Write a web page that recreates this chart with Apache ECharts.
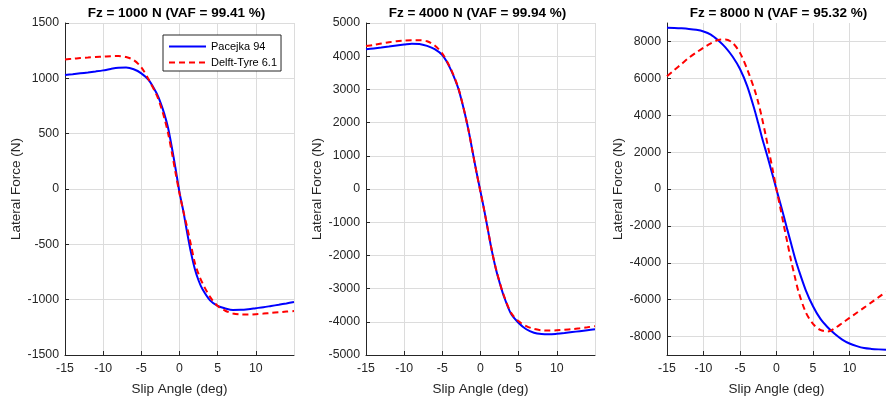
<!DOCTYPE html>
<html><head><meta charset="utf-8">
<script src="https://cdn.jsdelivr.net/npm/echarts@6/dist/echarts.min.js"></script>
<style>html,body{margin:0;padding:0;background:#fff}#c{width:886px;height:401px}</style>
</head><body><div id="c"></div>
<script>
const slip = [-15,-14,-13,-12,-11,-10,-9,-8,-7,-6,-5,-4,-3,-2.5,-2,-1.5,-1,-0.5,0,0.5,1,1.5,2,2.5,3,4,5,6,7,8,9,10,11,12,13,14,15];
const p94_1000 = [1030,1037,1045,1053,1062,1072,1085,1095,1097,1082,1045,982,865,783,681,553,375,178,-31,-200,-393,-573,-721,-827,-904,-1006,-1056,-1079,-1093,-1092,-1086,-1077,-1068,-1057,-1046,-1034,-1021];
const dt_1000 = [1171,1177,1183,1188,1193,1196,1200,1201,1192,1165,1100,985,850,758,645,505,330,140,-40,-200,-345,-505,-665,-770,-850,-975,-1057,-1100,-1125,-1134,-1135,-1131,-1126,-1120,-1114,-1108,-1103];
const p94_4000 = [4208,4235,4262,4290,4320,4350,4378,4370,4310,4210,4030,3650,3090,2690,2220,1690,1080,480,-80,-650,-1270,-1880,-2393,-2815,-3190,-3760,-4035,-4225,-4330,-4370,-4378,-4362,-4338,-4310,-4282,-4254,-4226];
const dt_4000 = [4307,4340,4380,4420,4450,4470,4480,4480,4450,4320,4080,3670,3110,2700,2225,1690,1075,470,-95,-660,-1265,-1870,-2380,-2800,-3170,-3730,-3985,-4130,-4215,-4255,-4265,-4255,-4240,-4220,-4195,-4165,-4130];
const p94_8000 = [8745,8733,8712,8680,8630,8540,8370,8060,7680,7170,6507,5566,4288,3560,2810,2120,1420,700,-30,-750,-1480,-2230,-2960,-3700,-4340,-5480,-6357,-7031,-7493,-7861,-8162,-8375,-8520,-8625,-8670,-8695,-8710];
const dt_8000 = [6116,6450,6780,7116,7400,7660,7900,8075,8110,7920,7380,6474,5374,4692,3870,2943,1978,997,-25,-975,-1968,-2927,-3886,-4737,-5544,-6675,-7309,-7640,-7725,-7545,-7270,-6990,-6710,-6430,-6150,-5865,-5585];

const titles = ['Fz = 1000 N (VAF = 99.41 %)','Fz = 4000 N (VAF = 99.94 %)','Fz = 8000 N (VAF = 95.32 %)'];
const seriesNames = ['Pacejka 94','Delft-Tyre 6.1'];
const xName = 'Slip Angle (deg)';
const yName = 'Lateral Force (N)';
const yTicks8000 = [-8000,-6000,-4000,-2000,0,2000,4000,6000,8000];

const FONT = "'Liberation Sans', Arial, Helvetica, sans-serif";
const AX = '#262626', GRIDC = '#dcdcdc';
const lefts = [65, 366, 667];
const W = 229, H = 332, TOP = 23;
const yCfg = [
  {min:-1500,max:1500,interval:500},
  {min:-5000,max:5000,interval:1000},
  {min:-9000,max:9000,custom:yTicks8000}
];
const pairs = a => slip.map((x,i)=>[x,a[i]]);
const blues = [p94_1000,p94_4000,p94_8000];
const reds = [dt_1000,dt_4000,dt_8000];

const option = {
  animation:false,
  backgroundColor:'#fff',
  textStyle:{fontFamily:FONT},
  title: titles.map((t,i)=>({text:t,left:lefts[i]+W/2-3,top:6,padding:0,textAlign:'center',
    textStyle:{fontSize:13.5,fontWeight:'bold',color:'#000',fontFamily:FONT}})),
  legend:{data:seriesNames,orient:'vertical',left:163,top:35,padding:[6,4,3,5],itemGap:5,
    itemWidth:37,itemHeight:2,borderColor:AX,borderWidth:1,backgroundColor:'#fff',borderRadius:0,
    itemStyle:{opacity:0},
    textStyle:{fontSize:11,color:'#000',fontFamily:FONT}},
  grid: lefts.map(l=>({left:l,top:TOP,width:W,height:H})),
  xAxis: lefts.map((l,i)=>({type:'value',gridIndex:i,min:-15,max:15,interval:5,
    name:xName,nameLocation:'middle',nameGap:27,nameTextStyle:{fontSize:13.5,color:AX,fontFamily:FONT},
    axisLine:{onZero:false,lineStyle:{color:AX,width:1}},
    axisTick:{inside:true,length:4,lineStyle:{color:AX}},
    axisLabel:{margin:8,fontSize:12.3,color:AX,fontFamily:FONT,showMaxLabel:false,formatter:v=>v===15?'':String(v)},
    splitLine:{show:true,lineStyle:{color:GRIDC,width:1}}})),
  yAxis: yCfg.map((c,i)=>{
    const a = {type:'value',gridIndex:i,min:c.min,max:c.max,
      name:yName,nameLocation:'middle',nameGap:39,nameTextStyle:{fontSize:13.5,color:AX,fontFamily:FONT},
      axisLine:{show:true,onZero:false,lineStyle:{color:AX,width:1}},
      axisTick:{show:true,inside:true,length:4,lineStyle:{color:AX}},
      axisLabel:{margin:6,fontSize:12.3,color:AX,fontFamily:FONT,formatter:v=>String(v)},
      splitLine:{show:true,lineStyle:{color:GRIDC,width:1}}};
    if (c.custom){ a.axisTick.customValues=c.custom; a.axisLabel.customValues=c.custom; }
    else a.interval=c.interval;
    return a;
  }),
  series: []
};
for (let i=0;i<3;i++){
  option.series.push({name:seriesNames[0],type:'line',xAxisIndex:i,yAxisIndex:i,data:pairs(blues[i]),
    symbol:'none',smooth:0.3,lineStyle:{color:'#0000ff',width:2},itemStyle:{color:'#0000ff'},z:3});
  option.series.push({name:seriesNames[1],type:'line',xAxisIndex:i,yAxisIndex:i,data:pairs(reds[i]),
    symbol:'none',smooth:0.3,lineStyle:{color:'#ff0000',width:2,type:[6,4]},itemStyle:{color:'#ff0000'},z:4});
}
const chart = echarts.init(document.getElementById('c'),null,{renderer:'canvas'});
chart.setOption(option);
</script></body></html>
